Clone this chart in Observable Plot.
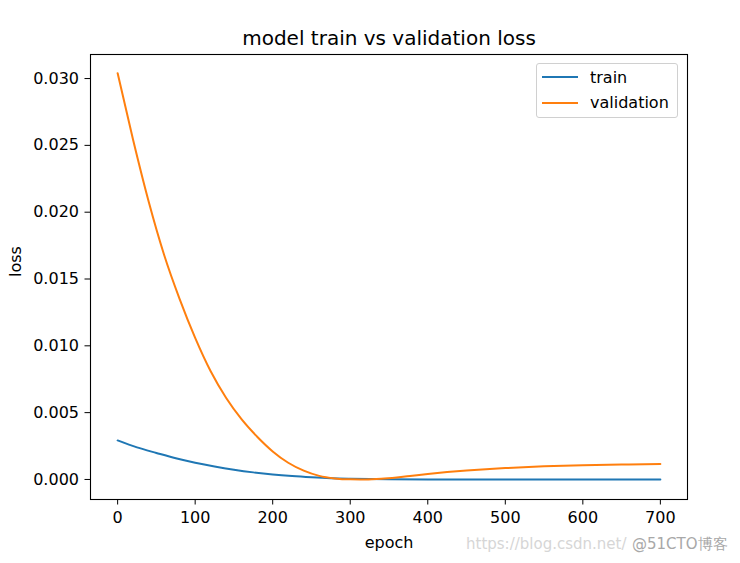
<!DOCTYPE html>
<html>
<head>
<meta charset="utf-8">
<script src="https://cdn.jsdelivr.net/npm/d3@7"></script>
<script src="https://cdn.jsdelivr.net/npm/@observablehq/plot@0.6"></script>
<style>
  html, body { margin: 0; padding: 0; background: #fff; }
  #wrap { position: relative; width: 740px; height: 563px; overflow: hidden; font-family: "DejaVu Sans", sans-serif; }
  #legend { position: absolute; left: 536px; top: 63px; width: 142px; height: 55px; border: 1px solid #d0d0d0; border-radius: 3px; background: rgba(255,255,255,0.85); box-sizing: border-box; }
  .lg-row { position: absolute; left: 0; height: 20px; display: flex; align-items: center; font-size: 16px; color: #000; }
  .lg-line { width: 36px; height: 2px; margin-left: 5px; margin-right: 12px; }
  #wm1 { position: absolute; left: 466px; top: 535px; font-size: 15px; color: #d6d6d6; white-space: nowrap; }
  #wm2 { position: absolute; left: 632px; top: 535px; font-size: 15px; color: #a8a8a8; white-space: nowrap; }
</style>
</head>
<body>
<div id="wrap"></div>
<script>
// ---- data ----
const titleText = "model train vs validation loss";
const xLabel = "epoch";
const yLabel = "loss";
const seriesNames = ["train", "validation"];
const seriesColors = ["#1f77b4", "#ff7f0e"];

const trainEpochs = [0, 25, 50, 75, 100, 125, 150, 175, 200, 225, 250, 275, 300, 350, 400, 450, 500, 550, 600, 650, 700];
const trainLoss   = [0.00292, 0.00240, 0.00198, 0.00158, 0.00125, 0.00097, 0.00073, 0.00053, 0.00037, 0.00025, 0.00016, 0.00009, 0.00005, 0.00001, 0.0, 0.0, 0.0, 0.0, 0.0, 0.0, 0.0];

const valEpochs = [0, 20, 40, 60, 80, 100, 120, 140, 160, 180, 200, 220, 240, 260, 280, 300, 320, 340, 360, 380, 400, 425, 450, 475, 500, 550, 600, 650, 700];
const valLoss   = [0.0304, 0.0254, 0.0208, 0.0168, 0.0135, 0.0106, 0.0081, 0.0061, 0.0045, 0.0032, 0.0021, 0.00125, 0.00066, 0.00027, 0.00008, 0.00001, 0.0, 0.00005, 0.00015, 0.00028, 0.00041, 0.00055, 0.00067, 0.00077, 0.00085, 0.00098, 0.00107, 0.00112, 0.00115];

const xTicks = [0, 100, 200, 300, 400, 500, 600, 700];
const yTicks = [0.000, 0.005, 0.010, 0.015, 0.020, 0.025, 0.030];

// ---- build table ----
const rows = [
  ...trainEpochs.map((e, i) => ({epoch: e, loss: trainLoss[i], series: seriesNames[0]})),
  ...valEpochs.map((e, i) => ({epoch: e, loss: valLoss[i], series: seriesNames[1]}))
];

const chart = Plot.plot({
  width: 740,
  height: 563,
  marginLeft: 90,
  marginRight: 53,
  marginTop: 54,
  marginBottom: 64,
  style: {fontFamily: "DejaVu Sans, sans-serif", fontSize: "16px", color: "#000", background: "#fff"},
  x: {domain: [-35, 735]},
  y: {domain: [-0.0015, 0.0318]},
  color: {domain: seriesNames, range: seriesColors},
  marks: [
    Plot.axisX({ticks: xTicks, tickSize: 5.5, tickPadding: 7, label: null, fontSize: 16}),
    Plot.axisY({ticks: yTicks, tickSize: 5.5, tickPadding: 6, label: null, fontSize: 16, tickFormat: d3.format(".3f")}),
    Plot.line(rows, {x: "epoch", y: "loss", z: "series", stroke: "series", strokeWidth: 2, curve: "monotone-x"}),
    Plot.frame({stroke: "#000", strokeWidth: 1.1}),
    Plot.text([titleText], {frameAnchor: "top", dy: -24, fontSize: 20}),
    Plot.text([xLabel], {frameAnchor: "bottom", dy: 48, fontSize: 16}),
    Plot.text([yLabel], {frameAnchor: "left", dx: -75, rotate: -90, fontSize: 16})
  ]
});

const wrap = document.getElementById("wrap");
wrap.appendChild(chart);

// legend
const legend = document.createElement("div");
legend.id = "legend";
seriesNames.forEach((name, i) => {
  const row = document.createElement("div");
  row.className = "lg-row";
  row.style.top = (3 + i * 25.5) + "px";
  const ln = document.createElement("div");
  ln.className = "lg-line";
  ln.style.background = seriesColors[i];
  const tx = document.createElement("span");
  tx.textContent = name;
  row.appendChild(ln);
  row.appendChild(tx);
  legend.appendChild(row);
});
wrap.appendChild(legend);

// watermark
const wm1 = document.createElement("div");
wm1.id = "wm1";
wm1.textContent = "https://blog.csdn.net/";
wrap.appendChild(wm1);
const wm2 = document.createElement("div");
wm2.id = "wm2";
wm2.textContent = "@51CTO博客";
wrap.appendChild(wm2);
</script>
</body>
</html>
